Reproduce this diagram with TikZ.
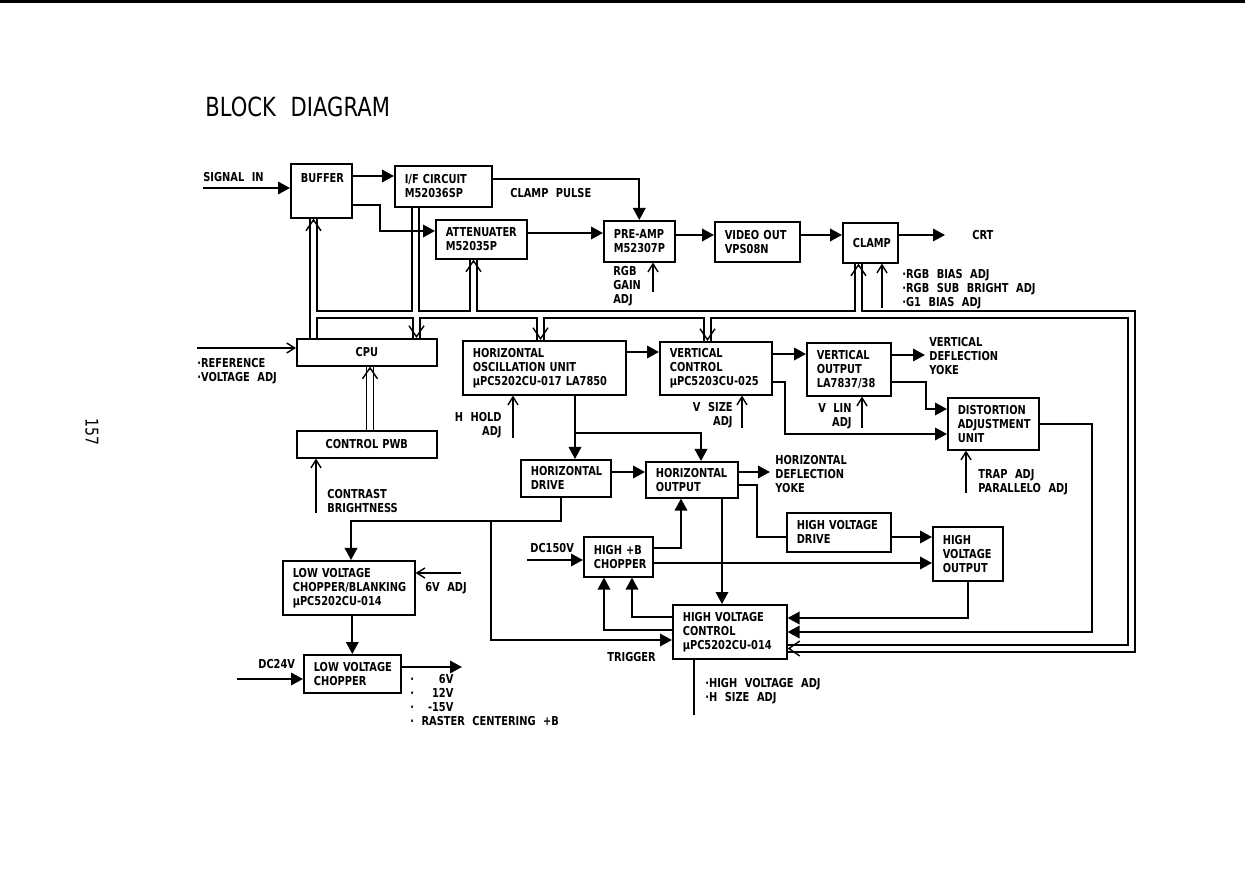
\documentclass[tikz,border=0pt]{standalone}
\usepackage{fontspec}
\setmainfont{DejaVu Sans}[FakeStretch=0.8, WordSpace=2.2]
\usetikzlibrary{arrows.meta, backgrounds}

\begin{document}
\lefthyphenmin=64
\begin{tikzpicture}[x=0.2mm, y=-0.2mm,
  font=\fontsize{7}{8}\selectfont\bfseries,
  blk/.style={draw, line width=0.9pt, anchor=north west, align=left,
              inner xsep=2mm, inner ysep=1mm},
  cblk/.style={blk, align=center},
  lbl/.style={anchor=west, align=left, inner sep=0pt},
  rlbl/.style={anchor=east, align=right, inner sep=0pt},
  sig/.style={line width=1.1pt, -{Triangle[length=2.4mm, width=2.5mm]}},
  wire/.style={line width=1.1pt},
  adj/.style={line width=0.8pt, -{Straight Barb[length=1.6mm, width=2mm]}},
  bushead/.style={line width=0.8pt, -{Straight Barb[length=2.2mm, width=3mm]}},
  busout/.style={line width=1.7mm, line join=miter},
  busin/.style={line width=1.1mm, white, line join=miter}
]
\useasboundingbox (0,0) rectangle (1245,876);
% page edge, title, page number
\draw[line width=1.2pt] (0,1.5) -- (1245,1.5);
\node[lbl, font=\fontsize{15}{18}\selectfont\mdseries] (title) at (205,107) {BLOCK DIAGRAM};
\node[rotate=-90, font=\fontsize{10}{12}\selectfont\mdseries] (page) at (92,432) {157};

% video chain
\node[blk, text width=8.2mm, text height=2.7mm, text depth=6.1mm] (BUF) at (290,163) {BUFFER};
\node[blk, text width=15.4mm, minimum height=8.2mm] (IFC) at (394,165) {I/F~CIRCUIT\\M52036SP};
\node[blk, text width=14.2mm, minimum height=7.8mm] (ATT) at (435,219) {ATTENUATER\\M52035P};
\node[blk, text width=10.2mm, minimum height=8.2mm] (PRE) at (603,220) {PRE-AMP\\M52307P};
\node[blk, text width=13mm, minimum height=8mm] (VID) at (714,221) {VIDEO~OUT\\VPS08N};
\node[blk, text width=7mm, minimum height=8mm] (CLP) at (842,222) {CLAMP};
% control
\node[cblk, text width=24mm, minimum height=5.4mm] (CPU) at (296,338) {CPU};
\node[cblk, text width=24mm, minimum height=5.4mm] (PWB) at (296,430) {CONTROL~PWB};
% deflection
\node[blk, text width=28.6mm, minimum height=10.8mm] (HOSC) at (462,340) {HORIZONTAL\\OSCILLATION~UNIT\\µPC5202CU-017~LA7850};
\node[blk, text width=18.4mm, minimum height=10.6mm] (VCON) at (659,341) {VERTICAL\\CONTROL\\µPC5203CU-025};
\node[blk, text width=12.8mm, minimum height=10.6mm] (VOUT) at (806,342) {VERTICAL\\OUTPUT\\LA7837/38};
\node[blk, text width=14.2mm, minimum height=10.4mm] (DIST) at (947,397) {DISTORTION\\ADJUSTMENT\\UNIT};
\node[blk, text width=14mm, minimum height=7.4mm] (HDRV) at (520,459) {HORIZONTAL\\DRIVE};
\node[blk, text width=14.4mm, minimum height=7.2mm] (HOUT) at (645,461) {HORIZONTAL\\OUTPUT};
% high voltage
\node[blk, text width=16.8mm, minimum height=7.8mm] (HVDRV) at (786,512) {HIGH~VOLTAGE\\DRIVE};
\node[blk, text width=10mm, minimum height=10.8mm] (HVOUT) at (932,526) {HIGH\\VOLTAGE\\OUTPUT};
\node[blk, text width=9.8mm, minimum height=8mm] (HBC) at (583,536) {HIGH~+B\\CHOPPER};
\node[blk, text width=18.8mm, minimum height=10.8mm] (HVC) at (672,604) {HIGH~VOLTAGE\\CONTROL\\µPC5202CU-014};
% power supply
\node[blk, text width=22.4mm, minimum height=10.8mm] (LVCB) at (282,560) {LOW~VOLTAGE\\CHOPPER/BLANKING\\µPC5202CU-014};
\node[blk, text width=15.4mm, minimum height=7.6mm] (LVC) at (303,654) {LOW~VOLTAGE\\CHOPPER};

% free ends and junctions
\coordinate (sigin) at (203,188);
\coordinate (crt) at (945,235);
\coordinate (gainadj) at (653,292);
\coordinate (biasadj) at (882,308);
\coordinate (refadj) at (197,348);
\coordinate (conadj) at (316,513);
\coordinate (hhold) at (513,438);
\coordinate (vyoke) at (925,355);
\coordinate (vsize) at (742,428);
\coordinate (vlin) at (862,428);
\coordinate (trap) at (966,493);
\coordinate (hyoke) at (770,472);
\coordinate (dc150) at (527,560);
\coordinate (sixv) at (461,573);
\coordinate (dc24) at (237,679);
\coordinate (lvout) at (462,667);
\coordinate (hvadj) at (694,715);
\coordinate (trig) at (491,521);
\coordinate (hsplit) at (575,433);

% bus ends
\coordinate (bBUF) at (BUF.south -| 313.5,0);
\coordinate (bCPU) at (CPU.north -| 313.5,0);
\coordinate (bIFC) at (IFC.south -| 415.5,0);
\coordinate (bATT) at (ATT.south -| 473.5,0);
\coordinate (bCLP) at (CLP.south -| 858.5,0);
\coordinate (bCPUin) at (CPU.north -| 416.5,0);
\coordinate (bHOSC) at (HOSC.north -| 540.5,0);
\coordinate (bVCON) at (VCON.north -| 707.5,0);
\coordinate (bHVC) at (HVC.east |- 0,648.5);
\coordinate (bPWB) at (PWB.north -| 370,0);
\coordinate (bCPUout) at (CPU.south -| 370,0);

% double line bus
\begin{scope}[on background layer]
  \foreach \s in {busout, busin}{
    \draw[\s] (bBUF) -- (bCPU);
    \draw[\s] (bBUF |- 0,314.5) -- (1131.5,314.5) |- (bHVC);
    \draw[\s] (bIFC |- 0,314.5) -- (bIFC);
    \draw[\s] (bATT |- 0,314.5) -- (bATT);
    \draw[\s] (bCLP |- 0,314.5) -- (bCLP);
    \draw[\s] (bCPUin |- 0,314.5) -- (bCPUin);
    \draw[\s] (bHOSC |- 0,314.5) -- (bHOSC);
    \draw[\s] (bVCON |- 0,314.5) -- (bVCON);
    \draw[\s] (bPWB) -- (bCPUout);
  }
\end{scope}
\draw[bushead] ([yshift=-0.5mm]bBUF) -- (bBUF);
\draw[bushead] ([yshift=-0.5mm]bATT) -- (bATT);
\draw[bushead] ([yshift=-0.5mm]bCLP) -- (bCLP);
\draw[bushead] ([yshift=-0.5mm]bCPUout) -- (bCPUout);
\draw[bushead] ([yshift=0.5mm]bCPUin) -- (bCPUin);
\draw[bushead] ([yshift=0.5mm]bHOSC) -- (bHOSC);
\draw[bushead] ([yshift=0.5mm]bVCON) -- (bVCON);
\draw[bushead] ([xshift=0.5mm]bHVC) -- (bHVC);

% video signal path
\draw[sig] (sigin) -- (sigin -| BUF.west);
\draw[sig] (BUF.east |- 0,176) -- (IFC.west |- 0,176);
\draw[sig] (BUF.east |- 0,205) -- (380,205) |- (ATT.west |- 0,231);
\draw[sig] (IFC.east |- 0,179) -| (PRE.north);
\draw[sig] (ATT.east |- 0,233) -- (PRE.west |- 0,233);
\draw[sig] (PRE.east |- 0,235) -- (VID.west |- 0,235);
\draw[sig] (VID.east |- 0,235) -- (CLP.west |- 0,235);
\draw[sig] (CLP.east |- 0,235) -- (crt);

% adjustments
\draw[adj] (gainadj) -- (gainadj |- PRE.south);
\draw[adj] (biasadj) -- (biasadj |- CLP.south);
\draw[adj] (refadj) -- (refadj -| CPU.west);
\draw[adj] (conadj) -- (conadj |- PWB.south);
\draw[adj] (hhold) -- (hhold |- HOSC.south);
\draw[adj] (vsize) -- (vsize |- VCON.south);
\draw[adj] (vlin) -- (vlin |- VOUT.south);
\draw[adj] (trap) -- (trap |- DIST.south);
\draw[adj] (sixv) -- (sixv -| LVCB.east);
\draw[line width=0.8pt] (hvadj |- HVC.south) -- (hvadj);

% deflection
\draw[sig] (HOSC.east |- 0,352) -- (VCON.west |- 0,352);
\draw[sig] (HOSC.south -| hsplit) -- (HDRV.north -| hsplit);
\draw[sig] (hsplit) -| (HOUT.north -| 701,0);
\draw[sig] (VCON.east |- 0,354) -- (VOUT.west |- 0,354);
\draw[sig] (VOUT.east |- 0,355) -- (vyoke);
\draw[sig] (VOUT.east |- 0,382) -- (926,382) |- (DIST.west |- 0,409);
\draw[sig] (VCON.east |- 0,382) -- (785,382) |- (DIST.west |- 0,434);
\draw[sig] (DIST.east |- 0,424) -- (1092,424) |- (HVC.east |- 0,632);
\draw[sig] (HDRV.east |- 0,472) -- (HOUT.west |- 0,472);
\draw[sig] (HOUT.east |- 0,472) -- (hyoke);

% high voltage
\draw[wire] (HOUT.east |- 0,485) -- (757,485) |- (HVDRV.west |- 0,537);
\draw[sig] (HVDRV.east |- 0,537) -- (HVOUT.west |- 0,537);
\draw[sig] (HOUT.south -| 722,0) -- (HVC.north -| 722,0);
\draw[sig] (HBC.east |- 0,548) -| (HOUT.south -| 681,0);
\draw[sig] (HBC.east |- 0,563) -- (HVOUT.west |- 0,563);
\draw[sig] (dc150) -- (dc150 -| HBC.west);
\draw[sig] (HVOUT.south) |- (HVC.east |- 0,618);
\draw[sig] (HVC.west |- 0,617) -| (HBC.south -| 632,0);
\draw[sig] (HVC.west |- 0,630) -| (HBC.south -| 604,0);
\draw[sig] (HDRV.south -| 561,0) |- (trig) -| (LVCB.north -| 351,0);
\draw[sig] (trig) |- (HVC.west |- 0,640);

% power supply
\draw[sig] (LVC.north |- LVCB.south) -- (LVC.north);
\draw[sig] (dc24) -- (dc24 -| LVC.west);
\draw[sig] (LVC.east |- lvout) -- (lvout);

% texts
\node[lbl] (tsig) at (203,177) {SIGNAL IN};
\node[lbl] (tclp) at (510,193) {CLAMP PULSE};
\node[lbl] (tcrt) at (972,235) {CRT};
\node[lbl] (tgain) at (613,286) {RGB\\GAIN\\ADJ};
\node[lbl] (tbias) at (902,289) {·RGB BIAS ADJ\\·RGB SUB BRIGHT ADJ\\·G1 BIAS ADJ};
\node[lbl] (tref) at (197,371) {·REFERENCE\\·VOLTAGE ADJ};
\node[lbl] (tcon) at (327,501) {CONTRAST\\BRIGHTNESS};
\node[rlbl] (thh) at (502,425) {H HOLD\\ADJ};
\node[rlbl] (tvs) at (733,415) {V SIZE\\ADJ};
\node[rlbl] (tvl) at (852,416) {V LIN\\ADJ};
\node[lbl] (tvy) at (929,356) {VERTICAL\\DEFLECTION\\YOKE};
\node[lbl] (ttrap) at (978,482) {TRAP ADJ\\PARALLELO ADJ};
\node[lbl] (thy) at (775,474) {HORIZONTAL\\DEFLECTION\\YOKE};
\node[lbl] (tdc150) at (530,548) {DC150V};
\node[lbl] (t6v) at (425,588) {6V ADJ};
\node[lbl] (ttrig) at (607,657) {TRIGGER};
\node[lbl] (tdc24) at (258,664) {DC24V};
\node[lbl] (tvolt) at (410,700) {·\makebox[3.2em][r]{6V}\\·\makebox[3.2em][r]{12V}\\·\makebox[3.2em][r]{-15V}\\· RASTER CENTERING +B};
\node[lbl] (thv) at (705,691) {·HIGH VOLTAGE ADJ\\·H SIZE ADJ};
\end{tikzpicture}
\end{document}
